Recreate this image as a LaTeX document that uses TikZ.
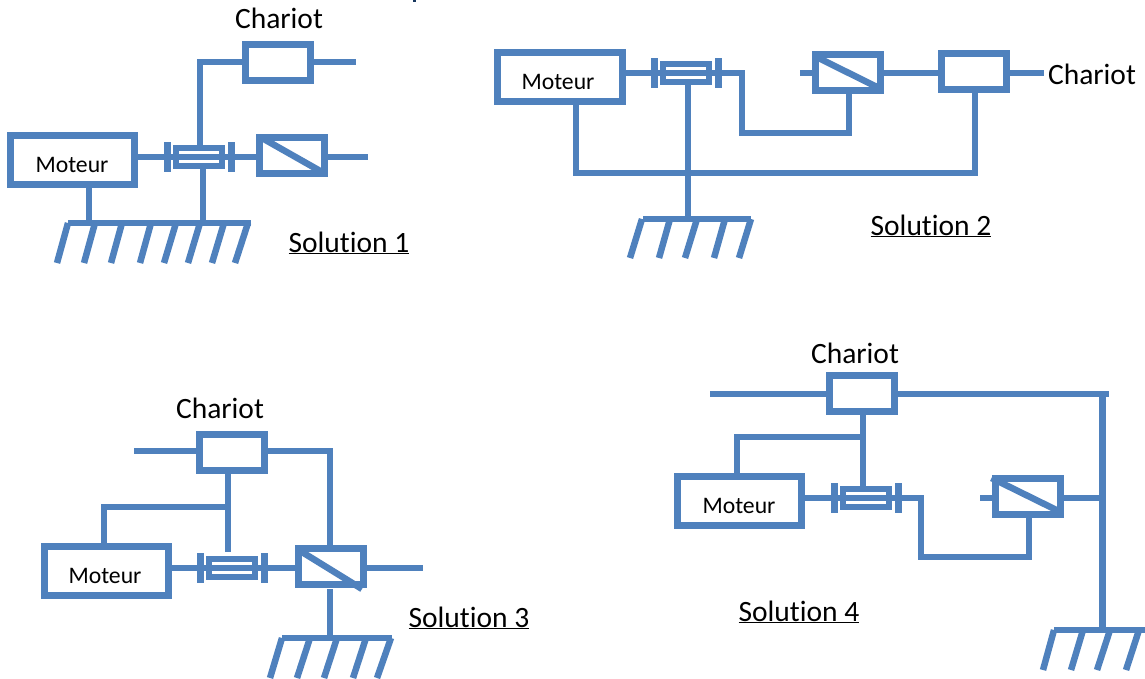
\documentclass[tikz,border=0pt]{standalone}
\usepackage{fontspec}
\setmainfont{Carlito}[Ligatures=NoCommon]
\definecolor{kin}{HTML}{4F81BD}
\definecolor{headfrag}{HTML}{17365D}
\tikzset{
  link/.style={draw=kin,line width=6.5pt},
  boxm/.style={draw=kin,line width=7pt,fill=white,inner sep=0pt,outer sep=0pt,minimum width=124pt,minimum height=49pt},
  boxc/.style={draw=kin,line width=7pt,fill=white,inner sep=0pt,outer sep=0pt,minimum width=65pt,minimum height=36pt},
  pivbox/.style={draw=kin,line width=6.5pt,fill=white,inner sep=0pt,outer sep=0pt,minimum width=46pt,minimum height=18pt},
  flange/.style={fill=kin,inner sep=0pt,outer sep=0pt,minimum width=7pt,minimum height=30pt},
  big/.style={anchor=base,inner sep=0pt,font=\fontsize{29.5}{34}\selectfont},
  small/.style={anchor=base,inner sep=0pt,font=\fontsize{23.7}{28}\selectfont},
}
\newcommand{\pivotg}[3]{%
  \node[pivbox] (#1) at (#2,#3) {};
  \node[flange] (#1L) at (#2-32,#3) {};
  \node[flange] (#1R) at (#2+32,#3) {};
  \draw[link,line width=5.5pt] (#1.west) -- (#1.east);
  \draw[link] (#1L) -- (#1.west);
  \draw[link] (#1.east) -- (#1R);
}
\newcommand{\hatches}[3]{%
  \foreach \a/\b in {#3} \draw[link,line width=6.5pt] (\a,#1) -- (\b,#2);
}
\begin{document}
\begin{tikzpicture}[x=1pt,y=-1pt]
\useasboundingbox (0,0) rectangle (1145,678);
\fill[headfrag] (413,0) rectangle (416,2);

% ---------- Solution 1
\node[boxm] (m1) at (72,160) {};
\node[small] (m1t) at (72,172) {Moteur};
\node[boxc] (c1) at (277.5,62.5) {};
\node[boxc] (s1) at (291.5,155) {};
\draw[link] ([shift={(3,1)}]s1.north west) -- ([shift={(-2,-1)}]s1.south east);
\pivotg{p1}{199}{157}
\coordinate (c1a) at (200,62);
\coordinate (c1b) at (356,62);
\coordinate (s1b) at (368,157);
\coordinate (g1L) at (68,223);
\coordinate (g1R) at (251,223);
\coordinate (g1m) at (89,223);
\coordinate (g1p) at (203,223);
\draw[link] (m1.east |- p1L) -- (p1L);
\draw[link] (p1R) -- (s1.west |- p1R);
\draw[link] (s1.east |- s1b) -- (s1b);
\draw[link] (c1.east |- c1b) -- (c1b);
\draw[link] (c1.west |- c1a) -- (c1a) -- (c1a |- p1.north);
\draw[link] (g1p |- p1.south) -- (g1p);
\draw[link] (g1m |- m1.south) -- (g1m);
\draw[link] (g1L) -- (g1R);
\hatches{223}{263}{68/57,95/84,122/111,151/140,176/164,200/188,224/212,248/235}
\node[big] (t1c) at (279,28) {Chariot};
\node[big] (t1s) at (349,252) {\underline{Solution 1}};

% ---------- Solution 2
\node[boxm,minimum width=125pt] (m2) at (559.5,76.5) {};
\node[small] (m2t) at (558,89) {Moteur};
\node[boxc] (s2) at (848,72) {};
\draw[link] ([shift={(3,4)}]s2.north west) -- ([shift={(-3.5,-3)}]s2.south east);
\node[boxc] (c2) at (973.5,71) {};
\pivotg{p2}{686}{73}
\coordinate (a2) at (742,73);
\coordinate (a2b) at (742,133);
\coordinate (a2c) at (849,133);
\coordinate (b2) at (800,73);
\coordinate (e2) at (1044,73);
\coordinate (f2L) at (576,173);
\coordinate (f2R) at (975,173);
\coordinate (g2L) at (643,219);
\coordinate (g2R) at (751,219);
\coordinate (g2m) at (688,219);
\draw[link] (m2.east |- p2L) -- (p2L);
\draw[link] (p2R) -- (a2) -- (a2b) -- (a2c) -- (a2c |- s2.south);
\draw[link] (b2) -- (s2.west |- b2);
\draw[link] (s2.east |- b2) -- (c2.west |- b2);
\draw[link] (c2.east |- e2) -- (e2);
\draw[link] (f2L |- m2.south) -- (f2L) -- (f2R) -- (f2R |- c2.south);
\draw[link] (g2m |- p2.south) -- (g2m);
\draw[link] (g2L) -- (g2R);
\hatches{219}{258}{642/630,670/659,697/685,725/714,751/739}
\node[big] (t2c) at (1092,84) {Chariot};
\node[big] (t2s) at (931,235) {\underline{Solution 2}};

% ---------- Solution 3
\node[boxm] (m3) at (106,570.5) {};
\node[small] (m3t) at (105,583) {Moteur};
\node[boxc] (c3) at (231.5,452) {};
\node[boxc] (s3) at (330.5,566) {};
\draw[link] ([shift={(4,4)}]s3.north west) -- ([shift={(-1,5)}]s3.south east);
\pivotg{p3}{232}{568}
\coordinate (a3) at (134,451);
\coordinate (b3) at (330,451);
\coordinate (e3) at (423,568);
\coordinate (j3) at (228,507);
\coordinate (k3) at (104,507);
\coordinate (q3) at (228,552);
\coordinate (g3L) at (282,638);
\coordinate (g3R) at (392,638);
\coordinate (g3m) at (330,638);
\coordinate (g3t) at (330,589);
\draw[link] (m3.east |- p3L) -- (p3L);
\draw[link] (p3R) -- (s3.west |- p3R);
\draw[link] (s3.east |- e3) -- (e3);
\draw[link] (a3) -- (c3.west |- a3);
\draw[link] (c3.east |- b3) -- (b3) -- (b3 |- s3.north);
\draw[link] (q3 |- c3.south) -- (q3);
\draw[link] (j3) -- (k3) -- (k3 |- m3.north);
\draw[link] (g3t) -- (g3m);
\draw[link] (g3L) -- (g3R);
\hatches{638}{678}{282/270,310/297,337/324,366/353,391/377}
\node[big] (t3c) at (220,418) {Chariot};
\node[big] (t3s) at (469,627) {\underline{Solution 3}};

% ---------- Solution 4
\node[boxm] (m4) at (739,500.5) {};
\node[small] (m4t) at (739,513) {Moteur};
\node[boxc] (c4) at (862,393) {};
\node[boxc] (s4) at (1028,496) {};
\draw[link] ([shift={(-4,0)}]s4.north west) -- ([shift={(0,-2)}]s4.south east);
\pivotg{p4}{866}{498}
\coordinate (a4) at (710,394);
\coordinate (b4) at (1109,394);
\coordinate (v4) at (1102.5,394);
\coordinate (j4) at (863,437);
\coordinate (k4) at (737,437);
\coordinate (d4) at (921,498);
\coordinate (d4b) at (921,557);
\coordinate (d4c) at (1029,557);
\coordinate (h4) at (980,498);
\coordinate (w4) at (1102.5,498);
\coordinate (g4L) at (1054,630);
\coordinate (g4R) at (1145,630);
\coordinate (g4m) at (1102.5,630);
\coordinate (r4) at (863,486);
\draw[link] (a4) -- (c4.west |- a4);
\draw[link] (c4.east |- b4) -- (b4);
\draw[link] (v4) -- (g4m);
\draw[link] (r4 |- c4.south) -- (r4);
\draw[link] (j4) -- (k4) -- (k4 |- m4.north);
\draw[link] (m4.east |- p4L) -- (p4L);
\draw[link] (p4R) -- (d4) -- (d4b) -- (d4c) -- (d4c |- s4.south);
\draw[link] (h4) -- (s4.west |- h4);
\draw[link] (s4.east |- w4) -- (w4);
\draw[link] (g4L) -- (g4R);
\hatches{630}{670}{1054/1043,1083/1071,1110/1097,1139/1126}
\node[big] (t4c) at (855,363) {Chariot};
\node[big] (t4s) at (799,621) {\underline{Solution 4}};
\end{tikzpicture}
\end{document}
